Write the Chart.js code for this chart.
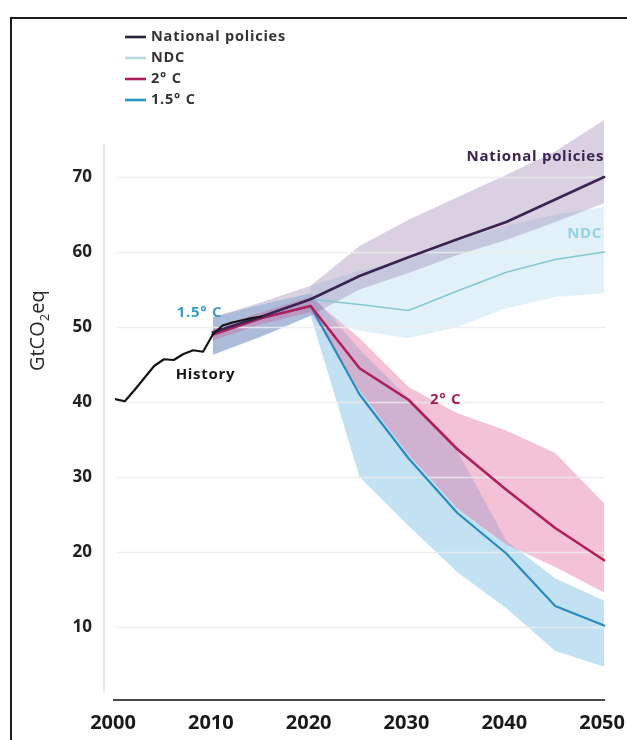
<!DOCTYPE html>
<html>
<head>
<meta charset="utf-8">
<script src="https://cdn.jsdelivr.net/npm/chart.js@4.4.1/dist/chart.umd.min.js"></script>
<style>
  html, body { margin: 0; padding: 0; background: #fff; }
  #wrap { position: relative; width: 627px; height: 740px; overflow: hidden; }
  #frame { position: absolute; left: 10px; top: 17px; width: 700px; height: 800px;
           border-left: 2px solid #1c1c1c; border-top: 2px solid #1c1c1c; }
  canvas { position: absolute; left: 0; top: 0; }
</style>
</head>
<body>
<div id="wrap">
  <div id="frame"></div>
  <canvas id="chart" width="627" height="740"></canvas>
</div>
<script>
// Historical emissions, GtCO2eq per year
const historyYears  = [2000, 2001, 2002, 2003, 2004, 2005, 2006, 2007, 2008, 2009, 2010, 2011, 2012, 2013, 2014, 2015];
const historyValues = [40.4, 40.1, 41.6, 43.2, 44.8, 45.7, 45.6, 46.4, 46.9, 46.7, 49.0, 50.2, 50.6, 50.9, 51.2, 51.4];

// Scenario pathways (5-year steps)
const scenarioYears = [2010, 2015, 2020, 2025, 2030, 2035, 2040, 2045, 2050];
const policiesMid  = [49.3, 51.4, 53.7, 56.8, 59.3, 61.7, 64.0, 67.0, 70.0];
const policiesLow  = [46.3, 48.8, 51.5, 55.0, 57.2, 59.6, 61.6, 64.0, 66.5];
const policiesHigh = [51.3, 53.3, 55.5, 60.8, 64.3, 67.3, 70.3, 73.4, 77.6];

const ndcYears = [2020, 2025, 2030, 2035, 2040, 2045, 2050];
const ndcMid   = [53.7, 53.0, 52.2, 54.8, 57.3, 59.0, 60.0];
const ndcLow   = [51.5, 49.5, 48.5, 50.0, 52.5, 54.0, 54.5];
const ndcHigh  = [55.5, 57.5, 59.0, 61.5, 63.5, 65.0, 66.0];

const twoMid  = [49.0, 51.2, 52.8, 44.5, 40.3, 33.7, 28.3, 23.2, 18.9];
const twoLow  = [48.2, 50.4, 52.0, 41.5, 33.0, 25.8, 21.0, 18.0, 14.6];
const twoHigh = [49.8, 52.0, 54.0, 48.5, 42.0, 38.5, 36.2, 33.2, 26.5];

const onePointFiveMid  = [49.0, 51.2, 52.8, 41.0, 32.5, 25.2, 19.8, 12.8, 10.2];
const onePointFiveLow  = [46.3, 48.7, 51.5, 30.0, 23.5, 17.3, 12.5, 6.8, 4.7];
const onePointFiveHigh = [51.3, 53.0, 54.5, 47.0, 40.5, 33.5, 21.5, 16.5, 13.5];

// Axis ticks
const xTickValues = [2000, 2010, 2020, 2030, 2040, 2050];
const yTickValues = [10, 20, 30, 40, 50, 60, 70];

// Series names
const seriesNames = ['National policies', 'NDC', '2° C', '1.5° C'];

const pts = (xs, ys) => xs.map((x, i) => ({ x: x, y: ys[i] }));

const COLORS = {
  policies: '#3b2352', policiesBand: 'rgba(120, 90, 150, 0.28)',
  ndc: '#84c8d3', ndcBand: 'rgba(150, 205, 232, 0.28)',
  two: '#ae1f5c', twoBand: 'rgba(228, 110, 160, 0.42)',
  onefive: '#2a8abd', onefiveBand: 'rgba(110, 185, 228, 0.42)',
  history: '#151515'
};

const edge = (data) => ({ data, borderWidth: 0, borderColor: 'rgba(0,0,0,0)', pointRadius: 0, fill: false });
const band = (data, color) => ({ data, borderWidth: 0, borderColor: 'rgba(0,0,0,0)', pointRadius: 0, fill: '-1', backgroundColor: color });
const line = (data, color, width) => ({ data, borderColor: color, borderWidth: width, pointRadius: 0, fill: false, tension: 0, borderJoinStyle: 'round', borderCapStyle: 'round' });

const datasets = [
  edge(pts(scenarioYears, policiesLow)),
  band(pts(scenarioYears, policiesHigh), COLORS.policiesBand),
  edge(pts(ndcYears, ndcLow)),
  band(pts(ndcYears, ndcHigh), COLORS.ndcBand),
  edge(pts(scenarioYears, twoLow)),
  band(pts(scenarioYears, twoHigh), COLORS.twoBand),
  edge(pts(scenarioYears, onePointFiveLow)),
  band(pts(scenarioYears, onePointFiveHigh), COLORS.onefiveBand),
  line(pts(historyYears, historyValues), COLORS.history, 2.2),
  line(pts(scenarioYears, policiesMid), COLORS.policies, 2.6),
  line(pts(ndcYears, ndcMid), COLORS.ndc, 1.6),
  line(pts(scenarioYears, twoMid), COLORS.two, 2.6),
  line(pts(scenarioYears, onePointFiveMid), COLORS.onefive, 2.2)
];

const FONT = '"Open Sans", "Noto Sans", sans-serif';

// Legend entries drawn at the top-left corner
const legendStyle = {
  colors: ['#2a2238', '#b5dbe0', '#b01e5c', '#2a94c4'],
  left: 125, top: 37, rowGap: 21, lineLen: 21, textGap: 5
};

// In-plot labels, anchored in data coordinates
const labels = [
  { text: 'National policies', x: 2050, y: 72.7, align: 'right', color: '#3b2352' },
  { text: 'NDC', x: 2049.8, y: 62.4, align: 'right', color: '#93d2de' },
  { text: '1.5° C', x: 2006.3, y: 51.9, align: 'left', color: '#3a9cc4' },
  { text: 'History', x: 2006.2, y: 43.6, align: 'left', color: '#161616' },
  { text: '2° C', x: 2032.2, y: 40.3, align: 'left', color: '#a31f57' }
];

const decorations = {
  id: 'decorations',
  beforeDatasetsDraw(chart) {
    const { ctx, scales: { x, y } } = chart;
    ctx.save();
    // horizontal gridlines, laid over the shaded ranges
    ctx.strokeStyle = 'rgba(236,236,236,0.85)';
    ctx.lineWidth = 1.6;
    const gx0 = x.getPixelForValue(2000) + 2, gx1 = x.getPixelForValue(2050) + 2;
    yTickValues.forEach(v => {
      const py = Math.round(y.getPixelForValue(v)) + 0.5;
      ctx.beginPath(); ctx.moveTo(gx0, py); ctx.lineTo(gx1, py); ctx.stroke();
    });
    // faint vertical rule beside the value labels
    ctx.strokeStyle = '#e8e8e8';
    ctx.lineWidth = 2;
    const ax = x.left - 11;
    ctx.beginPath(); ctx.moveTo(ax, y.getPixelForValue(74.5)); ctx.lineTo(ax, y.getPixelForValue(1.3)); ctx.stroke();
    // baseline under the plot
    ctx.strokeStyle = '#4a4a4a';
    ctx.lineWidth = 2.2;
    const by = y.bottom - 2;
    ctx.beginPath(); ctx.moveTo(x.left - 2, by); ctx.lineTo(x.getPixelForValue(2050) + 1, by); ctx.stroke();
    ctx.restore();
  },
  afterDatasetsDraw(chart) {
    const { ctx, scales: { x, y } } = chart;
    ctx.save();
    ctx.font = 'bold 15px ' + FONT;
    ctx.textBaseline = 'middle';
    if ('letterSpacing' in ctx) ctx.letterSpacing = '0.7px';
    labels.forEach(l => {
      ctx.fillStyle = l.color;
      ctx.textAlign = l.align;
      ctx.fillText(l.text, x.getPixelForValue(l.x), y.getPixelForValue(l.y));
    });
    ctx.restore();
  },
  afterDraw(chart) {
    const { ctx, scales: { y } } = chart;
    ctx.save();
    // legend
    const L = legendStyle;
    ctx.font = 'bold 14.5px ' + FONT;
    ctx.textBaseline = 'middle';
    ctx.textAlign = 'left';
    if ('letterSpacing' in ctx) ctx.letterSpacing = '0.8px';
    seriesNames.forEach((name, i) => {
      const py = L.top + i * L.rowGap;
      ctx.strokeStyle = L.colors[i];
      ctx.lineWidth = 2.6;
      ctx.beginPath(); ctx.moveTo(L.left, py); ctx.lineTo(L.left + L.lineLen, py); ctx.stroke();
      ctx.fillStyle = '#333';
      ctx.fillText(name, L.left + L.lineLen + L.textGap, py);
    });
    if ('letterSpacing' in ctx) ctx.letterSpacing = '0px';
    // y-axis title with subscript
    const cx = 38, cy = y.getPixelForValue(49.5);
    ctx.translate(cx, cy);
    ctx.rotate(-Math.PI / 2);
    ctx.fillStyle = '#2a2a2a';
    const big = '20px ' + FONT, small = '13px ' + FONT;
    ctx.font = big; const w1 = ctx.measureText('GtCO').width, w3 = ctx.measureText('eq').width;
    ctx.font = small; const w2 = ctx.measureText('2').width;
    let sx = -(w1 + w2 + w3) / 2;
    ctx.textBaseline = 'middle';
    ctx.font = big; ctx.fillText('GtCO', sx, 0); sx += w1;
    ctx.font = small; ctx.fillText('2', sx, 7); sx += w2;
    ctx.font = big; ctx.fillText('eq', sx, 0);
    ctx.restore();
  }
};

new Chart(document.getElementById('chart'), {
  type: 'line',
  data: { datasets },
  options: {
    responsive: false,
    animation: false,
    devicePixelRatio: 1,
    layout: { padding: { top: 102, right: 19, left: 0, bottom: 0 } },
    plugins: {
      legend: { display: false },
      tooltip: { enabled: false },
      filler: { drawTime: 'beforeDatasetsDraw', propagate: false }
    },
    scales: {
      x: {
        type: 'linear', min: 2000, max: 2050.4,
        afterBuildTicks: s => { s.ticks = xTickValues.map(v => ({ value: v })); },
        afterFit: s => { s.height = 38; s.paddingLeft = 0; s.paddingRight = 0; },
        grid: { display: false, drawTicks: false }, border: { display: false },
        ticks: { padding: 9, color: '#1a1a1a', maxRotation: 0, autoSkip: false, labelOffset: -2,
                 callback: v => String(v),
                 font: { family: FONT, weight: 'bold', size: 20 } }
      },
      y: {
        min: 0, max: 80,
        afterBuildTicks: s => { s.ticks = yTickValues.map(v => ({ value: v })); },
        afterFit: s => { s.width = 115; s.paddingTop = 0; s.paddingBottom = 0; },
        grid: { display: false, drawTicks: false }, border: { display: false },
        ticks: { padding: 23, color: '#222', font: { family: FONT, weight: 'bold', size: 17 } }
      }
    }
  },
  plugins: [decorations]
});
</script>
</body>
</html>
